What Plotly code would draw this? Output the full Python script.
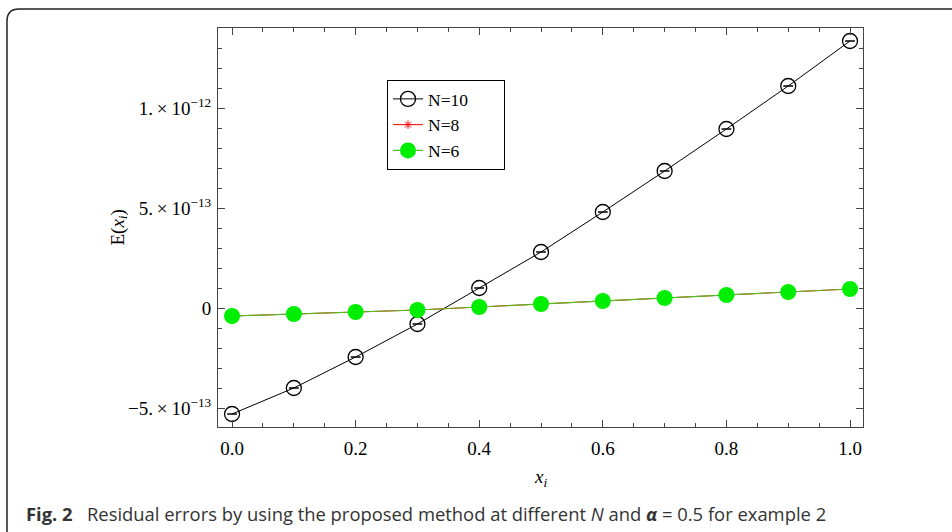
import plotly.graph_objects as go

x_vals = [0.0, 0.1, 0.2, 0.3, 0.4, 0.5, 0.6, 0.7, 0.8, 0.9, 1.0]
err_n10 = [-0.53e-12, -0.40e-12, -0.245e-12, -0.08e-12, 0.10e-12, 0.28e-12,
           0.48e-12, 0.685e-12, 0.895e-12, 1.11e-12, 1.335e-12]
err_n8 = [-0.04e-12, -0.03e-12, -0.02e-12, -0.01e-12, 0.005e-12, 0.02e-12,
          0.035e-12, 0.05e-12, 0.065e-12, 0.08e-12, 0.095e-12]
err_n6 = [-0.04e-12, -0.03e-12, -0.02e-12, -0.01e-12, 0.005e-12, 0.02e-12,
          0.035e-12, 0.05e-12, 0.065e-12, 0.08e-12, 0.095e-12]

y_tickvals = [-5e-13, 0, 5e-13, 1e-12]
y_ticktext = ["\u22125.\u2009\u00d7\u200910<sup>\u221213</sup>", "0",
              "5.\u2009\u00d7\u200910<sup>\u221213</sup>", "1.\u2009\u00d7\u200910<sup>\u221212</sup>"]
x_tickvals = [0.0, 0.2, 0.4, 0.6, 0.8, 1.0]
x_ticktext = ["0.0", "0.2", "0.4", "0.6", "0.8", "1.0"]
series_names = ["N=10", "N=8", "N=6"]

SERIF = "Liberation Serif"
PAD = "\u00a0" * 7

fig = go.Figure()
fig.add_trace(go.Scatter(
    x=x_vals, y=err_n10, name=series_names[0] + PAD, mode="lines+markers",
    line=dict(color="black", width=1),
    marker=dict(symbol="circle-open", size=15, color="black", line=dict(width=1.3)),
))
fig.add_trace(go.Scatter(
    x=x_vals, y=err_n10, mode="markers", showlegend=False, hoverinfo="skip",
    marker=dict(symbol="line-ew-open", size=7, color="black", line=dict(width=1.5, color="black")),
))
fig.add_trace(go.Scatter(
    x=x_vals, y=err_n8, name=series_names[1], mode="lines+markers",
    line=dict(color="red", width=1),
    marker=dict(symbol="asterisk-open", size=7, color="red", line=dict(width=1, color="red")),
))
fig.add_trace(go.Scatter(
    x=x_vals, y=err_n6, name=series_names[2], mode="lines+markers",
    line=dict(color="#55bb22", width=1.2),
    marker=dict(symbol="circle", size=16, color="#00ee00"),
))

axis_common = dict(
    showgrid=False, zeroline=False, showline=True, linecolor="#444", linewidth=1,
    mirror="allticks", ticks="inside", tickcolor="#444", ticklen=7,
    tickfont=dict(family=SERIF, size=19, color="black"),
)

fig.update_xaxes(
    range=[-0.0227, 1.021], tickmode="array", tickvals=x_tickvals, ticktext=x_ticktext,
    ticklabelstandoff=4,
    minor=dict(ticks="inside", tickmode="linear", tick0=0, dtick=0.05, ticklen=4, tickcolor="#444"),
    **axis_common,
)
fig.update_yaxes(
    range=[-0.595e-12, 1.4e-12], tickmode="array", tickvals=y_tickvals, ticktext=y_ticktext,
    ticklabelstandoff=2,
    minor=dict(ticks="inside", tickmode="linear", tick0=0, dtick=1e-13, ticklen=4, tickcolor="#444"),
    **axis_common,
)

L, R, T, B = 218, 89, 28, 105
W, H = 952, 532
pw, ph = W - L - R, H - T - B

def px(xp):
    return (xp - L) / pw

def py(yp):
    return (H - B - yp) / ph

x0, y0, x1, y1, r = px(7), py(9), px(970), py(545), 12
rx, ry = r / pw, r / ph
frame_path = (f"M {x0} {y1} L {x0} {y0 - ry} Q {x0} {y0} {x0 + rx} {y0} L {x1} {y0}")

fig.update_layout(
    width=W, height=H,
    margin=dict(l=L, r=R, t=T, b=B),
    paper_bgcolor="white", plot_bgcolor="white",
    showlegend=True,
    legend=dict(
        x=px(387), y=py(80), xanchor="left", yanchor="top",
        bordercolor="black", borderwidth=1, bgcolor="white",
        font=dict(family=SERIF, size=17.5, color="black"),
        tracegroupgap=0, itemwidth=30,
    ),
    shapes=[dict(type="path", path=frame_path, xref="paper", yref="paper",
                 line=dict(color="#222", width=1.5))],
    annotations=[
        dict(text="E(<i>x</i><sub><i>i</i></sub>)", x=px(118), y=0.5, xref="paper", yref="paper",
             textangle=-90, showarrow=False, font=dict(family=SERIF, size=19, color="black"),
             xanchor="center", yanchor="middle"),
        dict(text="<i>x</i><sub><i>i</i></sub>", x=px(540), y=py(478), xref="paper", yref="paper",
             showarrow=False, font=dict(family=SERIF, size=19, color="black"),
             xanchor="center", yanchor="middle"),
        dict(text="<b>Fig. 2</b>   Residual errors by using the proposed method at different <i>N</i> and "
                  "<b><i>\u03b1</i></b> = 0.5 for example 2",
             x=px(24), y=py(513), xref="paper", yref="paper", showarrow=False,
             xanchor="left", yanchor="middle",
             font=dict(family="Open Sans", size=18.4, color="#333")),
    ],
)

fig.write_html("out.html", config={"displayModeBar": False},
               post_script="document.body.style.margin='0';")
